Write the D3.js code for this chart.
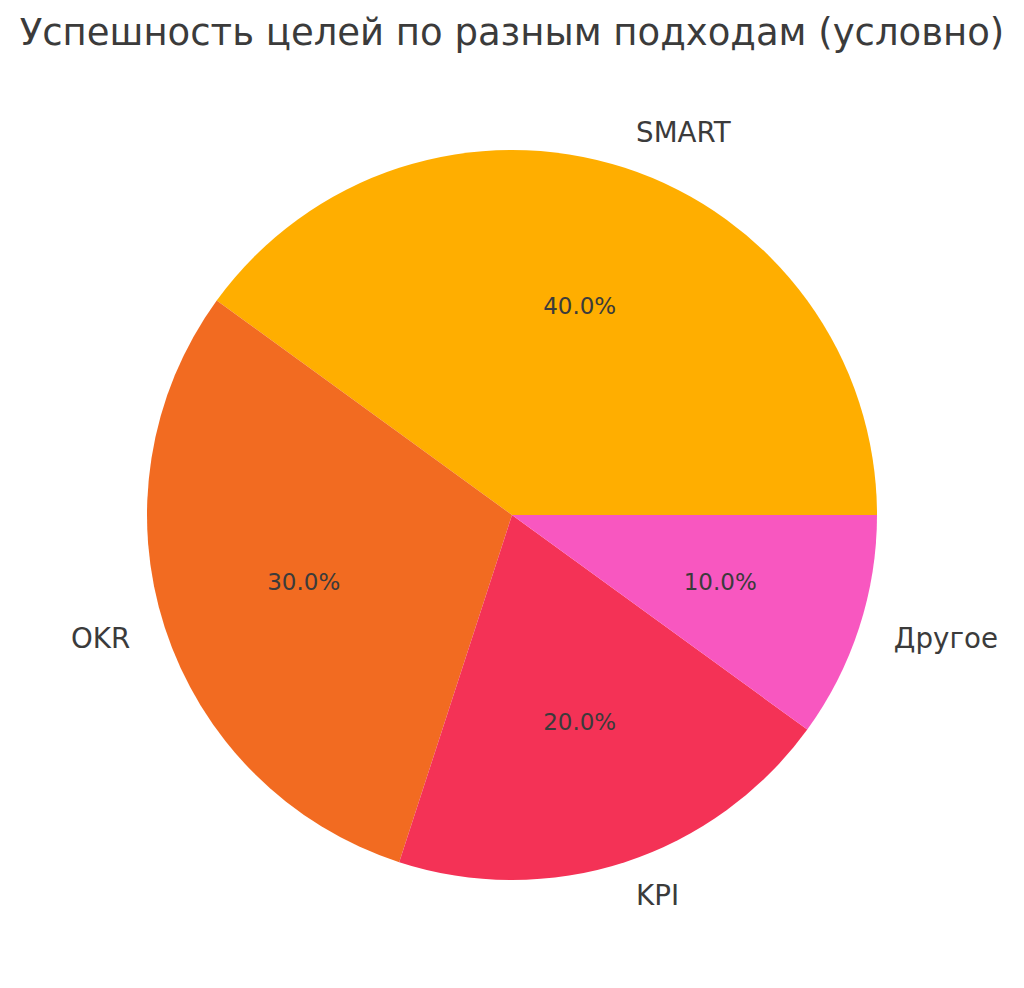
<!DOCTYPE html>
<html>
<head>
<meta charset="utf-8">
<script src="https://cdn.jsdelivr.net/npm/d3@7"></script>
<style>
  body { margin: 0; background: #fff; }
  text { font-family: "DejaVu Sans", sans-serif; fill: #3b3b3b; }
</style>
</head>
<body>
<div id="chart"></div>
<script>
const title = "Успешность целей по разным подходам (условно)";
const categories = ["SMART", "OKR", "KPI", "Другое"];
const values = [40, 30, 20, 10];
const colors = ["#FFAE00", "#F26B21", "#F43256", "#F857C0"];

const width = 1024, height = 988;
const cx = 512, cy = 515, radius = 365;

const svg = d3.select("#chart").append("svg")
  .attr("width", width)
  .attr("height", height);

svg.append("text")
  .attr("x", 512)
  .attr("y", 45)
  .attr("text-anchor", "middle")
  .style("font-size", "37px")
  .text(title);

// matplotlib style: start at 3 o'clock, counter-clockwise
const pie = d3.pie().sort(null)
  .startAngle(Math.PI / 2)
  .endAngle(Math.PI / 2 - 2 * Math.PI);

const data = categories.map((c, i) => ({ name: c, value: values[i], color: colors[i] }));
const arcs = pie.value(d => d.value)(data);
const arc = d3.arc().innerRadius(0).outerRadius(radius);
const total = d3.sum(values);

const g = svg.append("g").attr("transform", `translate(${cx},${cy})`);

g.selectAll("path").data(arcs).enter().append("path")
  .attr("d", arc)
  .attr("fill", d => d.data.color);

const mid = d => (d.startAngle + d.endAngle) / 2;
const pos = (d, r) => [r * Math.sin(mid(d)), -r * Math.cos(mid(d))];

g.selectAll(".lbl").data(arcs).enter().append("text")
  .attr("class", "lbl")
  .attr("x", d => pos(d, radius * 1.1)[0])
  .attr("y", d => pos(d, radius * 1.1)[1] - 1)
  .attr("text-anchor", d => pos(d, 1)[0] >= 0 ? "start" : "end")
  .attr("dominant-baseline", "central")
  .style("font-size", "27.7px")
  .text(d => d.data.name);

g.selectAll(".pct").data(arcs).enter().append("text")
  .attr("class", "pct")
  .attr("x", d => pos(d, radius * 0.6)[0])
  .attr("y", d => pos(d, radius * 0.6)[1] - 1)
  .attr("text-anchor", "middle")
  .attr("dominant-baseline", "central")
  .style("font-size", "23px")
  .text(d => (d.data.value / total * 100).toFixed(1) + "%");
</script>
</body>
</html>
